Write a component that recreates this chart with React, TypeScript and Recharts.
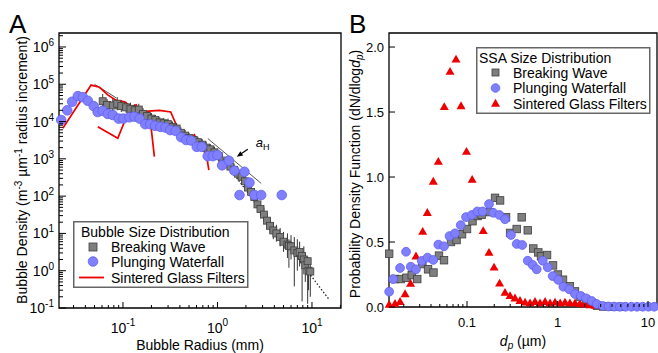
import React from 'react';
import {
  ComposedChart, Scatter, Line, XAxis, YAxis, ErrorBar,
  ReferenceArea, ReferenceDot, Legend,
} from 'recharts';

const FONT = '"Liberation Sans", Arial, Helvetica, sans-serif';
const GRAY = '#7f7f7f';
const GRAY_EDGE = '#3f3f3f';
const BLUE = '#8080ff';
const BLUE_EDGE = '#5f5ff0';
const RED = '#ee0000';

// ---------- Panel A: bubble size distribution ----------
const waveRadius = [0.061, 0.068, 0.078, 0.087, 0.096, 0.108, 0.12, 0.133, 0.147, 0.163, 0.18, 0.2, 0.22, 0.245, 0.27, 0.3, 0.335, 0.37, 0.41, 0.455, 0.5, 0.56, 0.62, 0.69, 0.76, 0.84, 0.93, 1.03, 1.13, 1.25, 1.37, 1.5, 1.65, 1.8, 1.95, 2.1, 2.27, 2.45, 2.65, 2.85, 3.1, 3.35, 3.6, 3.9, 4.2, 4.6, 5.0, 5.5, 5.7, 6.0, 6.5, 7.0, 7.4, 7.86, 8.2, 8.5, 9.0, 9.2, 9.6];
const waveDensity = [3.5e4, 2.8e4, 2.7e4, 3.0e4, 2.6e4, 2.4e4, 2.2e4, 2.0e4, 2.1e4, 1.6e4, 1.4e4, 1.2e4, 1.1e4, 9.5e3, 9e3, 8.5e3, 7.2e3, 6.5e3, 5e3, 4.2e3, 3.6e3, 3.2e3, 2.8e3, 2.4e3, 2.0e3, 1.8e3, 1.5e3, 1.2e3, 900, 800, 620, 500, 400, 330, 250, 170, 130, 95, 60, 45, 32, 22, 16, 12, 10, 8, 6, 5, 4.6, 4.5, 3.5, 3, 3.2, 2.5, 2.0, 1.4, 1.8, 1.0, 0.95];
const waveLow = [2.2e4, 1.9e4, 1.8e4, 2.0e4, 1.8e4, 1.7e4, 1.6e4, 1.4e4, 1.5e4, 1.15e4, 1.0e4, 8.5e3, 8e3, 7e3, 6.5e3, 6e3, 5.2e3, 4.7e3, 3.6e3, 3e3, 2.6e3, 2.3e3, 2e3, 1.7e3, 1.4e3, 1.3e3, 1.05e3, 850, 640, 560, 440, 350, 280, 230, 175, 120, 90, 65, 40, 30, 21, 14, 10, 7, 6, 4.5, 3.2, 2.2, 1.2, 2, 0.38, 1, 1.3, 0.15, 0.8, 0.5, 0.13, 0.3, 0.2];
const waveHigh = [5.5e4, 4.0e4, 4.2e4, 4.5e4, 3.8e4, 3.4e4, 3.2e4, 2.9e4, 3.0e4, 2.3e4, 2.0e4, 1.7e4, 1.5e4, 1.3e4, 1.25e4, 1.2e4, 1e4, 9e3, 7e3, 5.9e3, 5e3, 4.5e3, 3.9e3, 3.4e3, 2.9e3, 2.5e3, 2.1e3, 1.7e3, 1.3e3, 1.15e3, 880, 720, 580, 480, 360, 245, 190, 140, 90, 68, 50, 35, 26, 20, 17, 14, 11, 10, 7, 9, 8, 7, 6, 3.6, 4.5, 3, 2.4, 2, 1.6];

const fallRadius = [0.0222, 0.0257, 0.029, 0.0333, 0.0376, 0.0425, 0.049, 0.054, 0.061, 0.069, 0.078, 0.09, 0.101, 0.117, 0.132, 0.15, 0.172, 0.194, 0.219, 0.249, 0.282, 0.316, 0.36, 0.413, 0.467, 0.527, 0.604, 0.682, 0.789, 0.892, 1.0, 1.12, 1.32, 1.51, 1.71, 1.93, 2.18, 2.46, 2.9, 4.79];
const fallDensity = [1.1e4, 2.0e4, 3.4e4, 4.8e4, 4.5e4, 3.6e4, 2.6e4, 1.8e4, 1.95e4, 1.6e4, 1.5e4, 1.2e4, 1.2e4, 1.3e4, 1.35e4, 1.2e4, 8.5e3, 8.5e3, 7.7e3, 7.2e3, 6.9e3, 5.9e3, 5.6e3, 3.8e3, 3.2e3, 3.1e3, 2.1e3, 2.1e3, 1.18e3, 1.18e3, 1.26e3, 670, 890, 480, 107, 450, 230, 107, 107, 107];

const filterRadius1 = [0.0231, 0.046, 0.0564, 0.069, 0.085, 0.104, 0.122, 0.138, 0.15, 0.169, 0.186, 0.243, 0.32, 0.38, 0.413, 0.447, 0.485, 0.527, 0.57, 0.62, 0.67, 0.73, 0.77, 0.81];
const filterDensity1 = [6.6e3, 9.5e4, 8.3e4, 5.2e4, 3.7e4, 3.4e4, 2.5e4, 2.8e4, 1.8e4, 1.6e4, 1.9e4, 2.0e4, 1.8e4, 6.6e3, 3.8e3, 2.9e3, 4.4e3, 3.6e3, 4.4e3, 2.9e3, 2.1e3, 1.5e3, 1.15e3, 500];
const filterRadius2 = [0.0541, 0.0881, 0.1037, 0.1124, 0.132, 0.169, 0.191, 0.215];
const filterDensity2 = [7.3e3, 3.55e3, 9.9e3, 1.66e4, 2.0e4, 1.9e4, 1.66e4, 1.15e3];

// power-law guide lines
const fitSmallRadius = [0.05, 0.085];
const fitSmallDensity = [1.0e5, 4.3e4];
const fitHinzeRadius = [0.79, 2.9];
const fitHinzeDensity = [3500, 220];
const fitLargeRadius = [0.9, 15.3];
const fitLargeDensity = [2080, 0.164];

const hinzeRadius = 1.6;
const hinzeDensity = 1140;

// ---------- Panel B: SSA size distribution ----------
const ssaWaveDiam = [0.0138, 0.016, 0.0185, 0.0214, 0.0245, 0.0282, 0.0321, 0.0371, 0.0426, 0.049, 0.0557, 0.0665, 0.0766, 0.0881, 0.1, 0.115, 0.131, 0.145, 0.18, 0.204, 0.232, 0.27, 0.299, 0.354, 0.402, 0.469, 0.54, 0.614, 0.657, 0.766, 0.892, 1.01, 1.15, 1.37, 1.56, 1.77, 2.07, 2.41, 2.73, 3.2, 4.0, 5.0];
const ssaWavePdf = [0.41, 0.215, 0.215, 0.225, 0.245, 0.215, 0.33, 0.29, 0.265, 0.395, 0.36, 0.5, 0.515, 0.56, 0.6, 0.66, 0.7, 0.71, 0.73, 0.84, 0.82, 0.69, 0.57, 0.6, 0.69, 0.59, 0.45, 0.42, 0.39, 0.4, 0.32, 0.25, 0.21, 0.16, 0.12, 0.08, 0.055, 0.03, 0.01, 0.004, 0.002, 0.002];

const ssaFallDiam = [0.0138, 0.0153, 0.0182, 0.0212, 0.0239, 0.0273, 0.0316, 0.0366, 0.0424, 0.0482, 0.0557, 0.0641, 0.0737, 0.0852, 0.0975, 0.113, 0.13, 0.149, 0.175, 0.195, 0.228, 0.263, 0.306, 0.354, 0.408, 0.469, 0.532, 0.589, 0.686, 0.78, 0.885, 1.02, 1.16, 1.35, 1.56, 1.81, 2.07, 2.39, 2.71, 3.16, 3.66, 4.23, 4.89, 5.66, 6.54, 7.56, 8.74, 10.1, 11.7];
const ssaFallPdf = [0.118, 0.215, 0.3, 0.425, 0.31, 0.29, 0.355, 0.38, 0.362, 0.48, 0.467, 0.546, 0.567, 0.63, 0.692, 0.708, 0.735, 0.735, 0.792, 0.725, 0.708, 0.675, 0.554, 0.485, 0.477, 0.356, 0.323, 0.29, 0.356, 0.305, 0.238, 0.208, 0.156, 0.136, 0.1, 0.085, 0.067, 0.046, 0.023, 0.008, 0.004, 0.003, 0.002, 0.002, 0.002, 0.002, 0.002, 0.002, 0.002];

const ssaFilterDiam = [0.0138, 0.016, 0.0182, 0.0207, 0.0238, 0.0273, 0.0324, 0.0364, 0.0424, 0.0482, 0.0561, 0.0649, 0.0756, 0.0859, 0.0987, 0.114, 0.151, 0.175, 0.199, 0.229, 0.263, 0.299, 0.339, 0.385, 0.438, 0.497, 0.564, 0.641, 0.728, 0.827, 0.939, 1.07, 1.21, 1.37, 1.56, 1.77, 2.01, 2.29, 2.6];
const ssaFilterPdf = [0.018, 0.025, 0.04, 0.1, 0.18, 0.39, 0.58, 0.725, 0.965, 1.118, 1.54, 1.81, 1.905, 1.546, 1.195, 0.98, 0.585, 0.418, 0.305, 0.182, 0.11, 0.085, 0.067, 0.048, 0.035, 0.03, 0.04, 0.03, 0.04, 0.03, 0.035, 0.03, 0.035, 0.03, 0.03, 0.025, 0.02, 0.015, 0.01];

// ---------- axes ----------
const mantissas = [1, 2, 3, 4, 5, 6, 7, 8, 9];
const decade = (base: number) => mantissas.map((m) => Number((m * base).toPrecision(2)));
const radiusTicks = [...decade(0.01).slice(2), ...decade(0.1), ...decade(1), 10, 20];
const densityTicks = [...decade(0.1), ...decade(1), ...decade(10), ...decade(100), ...decade(1e3), ...decade(1e4), ...decade(1e5), 1e6, 2e6];
const diameterTicks = [...decade(0.01).slice(1), ...decade(0.1), ...decade(1), 10];
const pdfTicks = [0, 0.5, 1, 1.5, 2];

const RADIUS_DOMAIN = [0.02104, 20.28];
const DENSITY_DOMAIN = [0.1, 2.37e6];
const DIAM_DOMAIN = [0.01374, 12.57];
const PDF_DOMAIN = [0, 2.108];

const pts = (xs: number[], ys: number[]) => xs.map((x, i) => ({ x, y: ys[i] }));

const waveA = waveRadius.map((x, i) => ({
  x,
  y: waveDensity[i],
  err: [waveDensity[i] - waveLow[i], waveHigh[i] - waveDensity[i]],
}));
const fallA = pts(fallRadius, fallDensity);
const filterA1 = pts(filterRadius1, filterDensity1);
const filterA2 = pts(filterRadius2, filterDensity2);
const fitSmall = pts(fitSmallRadius, fitSmallDensity);
const fitHinze = pts(fitHinzeRadius, fitHinzeDensity);
const fitLarge = pts(fitLargeRadius, fitLargeDensity);

const waveB = pts(ssaWaveDiam, ssaWavePdf);
const fallB = pts(ssaFallDiam, ssaFallPdf);
const filterB = pts(ssaFilterDiam, ssaFilterPdf);

// ---------- helpers ----------
const isMajor = (v: number) => Math.abs(Math.log10(v) - Math.round(Math.log10(v))) < 1e-6;

const squareShape = (s: number) => (p: any) => (
  <rect x={p.cx - s / 2} y={p.cy - s / 2} width={s} height={s} fill={GRAY} stroke={GRAY_EDGE} strokeWidth={0.8} />
);
const circleShape = (r: number) => (p: any) => (
  <circle cx={p.cx} cy={p.cy} r={r} fill={BLUE} stroke={BLUE_EDGE} strokeWidth={0.8} />
);
const triangleShape = (w: number) => (p: any) => {
  const h = w * 0.87;
  return (
    <polygon
      points={`${p.cx},${p.cy - h * 0.6} ${p.cx - w / 2},${p.cy + h * 0.4} ${p.cx + w / 2},${p.cy + h * 0.4}`}
      fill={RED}
    />
  );
};

// ticks point inward; labels in powers of ten
const PowerTickY = ({ x, y, payload }: any) => {
  const v = payload.value;
  const major = isMajor(v);
  return (
    <g>
      <line x1={x} x2={x + (major ? 7 : 4)} y1={y} y2={y} stroke="#000" />
      {major && (
        <text x={x - 5} y={y + 5} textAnchor="end" fontSize={14} fill="#000" fontFamily={FONT}>
          10<tspan dy={-6} fontSize={10}>{Math.round(Math.log10(v))}</tspan>
        </text>
      )}
    </g>
  );
};

const PowerTickX = ({ x, y, payload }: any) => {
  const v = payload.value;
  const major = isMajor(v);
  return (
    <g>
      <line x1={x} x2={x} y1={y} y2={y - (major ? 6 : 3)} stroke="#000" />
      {major && (
        <text x={x} y={y + 25} textAnchor="middle" fontSize={14} fill="#000" fontFamily={FONT}>
          10<tspan dy={-7} fontSize={10}>{Math.round(Math.log10(v))}</tspan>
        </text>
      )}
    </g>
  );
};

const DiamTick = ({ x, y, payload }: any) => {
  const v = payload.value;
  const major = isMajor(v);
  return (
    <g>
      <line x1={x} x2={x} y1={y} y2={y - (major ? 6 : 3)} stroke="#000" />
      {major && (
        <text x={x} y={y + 20} textAnchor="middle" fontSize={13} fill="#000" fontFamily={FONT}>
          {String(v)}
        </text>
      )}
    </g>
  );
};

const PdfTick = ({ x, y, payload }: any) => (
  <g>
    <line x1={x} x2={x + 6} y1={y} y2={y} stroke="#000" />
    <text x={x - 5} y={y + 5} textAnchor="end" fontSize={13} fill="#000" fontFamily={FONT}>
      {payload.value.toFixed(1)}
    </text>
  </g>
);

const TitleAY = () => (
  <g fontFamily={FONT} fill="#000">
    <text x={9} y={33} fontSize={26}>A</text>
    <text transform="translate(27,170) rotate(-90)" textAnchor="middle" fontSize={14}>
      Bubble Density (m<tspan dy={-5} fontSize={10}>-3</tspan>
      <tspan dy={5}> µm</tspan>
      <tspan dy={-5} fontSize={10}>-1</tspan>
      <tspan dy={5}> radius increment)</tspan>
    </text>
  </g>
);

const TitleAX = () => (
  <text x={200} y={350} textAnchor="middle" fontSize={14} fontFamily={FONT} fill="#000">
    Bubble Radius (mm)
  </text>
);

const TitleBY = () => (
  <g fontFamily={FONT} fill="#000">
    <text x={19} y={33} fontSize={26}>B</text>
    <text transform="translate(30,174) rotate(-90)" textAnchor="middle" fontSize={14}>
      Probability Density Function (dN/dlog<tspan fontStyle="italic">d</tspan>
      <tspan dy={3} fontSize={10} fontStyle="italic">p</tspan>
      <tspan dy={-3}>)</tspan>
    </text>
  </g>
);

const TitleBX = () => (
  <text x={193} y={346} textAnchor="middle" fontSize={14} fontFamily={FONT} fill="#000">
    <tspan fontStyle="italic">d</tspan>
    <tspan dy={3} fontSize={10} fontStyle="italic">p</tspan>
    <tspan dy={-3}> (µm)</tspan>
  </text>
);

const HinzeArrow = (p: any) => {
  const { cx, cy } = p;
  return (
    <g>
      <line x1={cx + 11} y1={cy - 7.4} x2={cx + 4} y2={cy - 2.7} stroke="#000" strokeWidth={1.2} />
      <polygon points={`${cx},${cy} ${cx + 6.4},${cy - 1.3} ${cx + 3.6},${cy - 5.4}`} fill="#000" />
      <text x={cx + 19} y={cy - 9.5} fontSize={13} fontStyle="italic" fontFamily={FONT} fill="#000">
        a<tspan dy={3} fontSize={9} fontStyle="normal">H</tspan>
      </text>
    </g>
  );
};

const LegendA = () => (
  <svg width={176} height={68} style={{ display: 'block', fontFamily: FONT }}>
    <rect x={0.75} y={0.75} width={174} height={65.5} fill="#fff" stroke="#666" strokeWidth={1.5} />
    <text x={8} y={16} fontSize={14}>Bubble Size Distribution</text>
    {squareShape(8)({ cx: 20, cy: 26 })}
    <text x={38} y={31} fontSize={14}>Breaking Wave</text>
    {circleShape(4.8)({ cx: 20, cy: 40.5 })}
    <text x={38} y={45.5} fontSize={14}>Plunging Waterfall</text>
    <line x1={6} x2={31} y1={56.5} y2={56.5} stroke={RED} strokeWidth={1.8} />
    <text x={38} y={61.5} fontSize={14}>Sintered Glass Filters</text>
  </svg>
);

const LegendB = () => (
  <svg width={175} height={68} style={{ display: 'block', fontFamily: FONT }}>
    <rect x={0.75} y={0.75} width={173} height={65.5} fill="#fff" stroke="#666" strokeWidth={1.5} />
    <text x={3} y={16} fontSize={14}>SSA Size Distribution</text>
    {squareShape(7)({ cx: 19.5, cy: 25.5 })}
    <text x={37} y={30.5} fontSize={14}>Breaking Wave</text>
    {circleShape(4.3)({ cx: 19.5, cy: 41 })}
    <text x={37} y={46} fontSize={14}>Plunging Waterfall</text>
    {triangleShape(9)({ cx: 19.5, cy: 56.5 })}
    <text x={37} y={61.5} fontSize={14}>Sintered Glass Filters</text>
  </svg>
);

function BubblePanel() {
  return (
    <ComposedChart width={345} height={353} margin={{ top: 33, right: 4, bottom: 0, left: 0 }}>
      <XAxis
        type="number" dataKey="x" scale="log" domain={RADIUS_DOMAIN} ticks={radiusTicks}
        interval={0} tickSize={0} tickMargin={0} axisLine={false} tickLine={false}
        tick={PowerTickX} height={45} label={{ content: TitleAX }}
      />
      <YAxis
        type="number" dataKey="y" scale="log" domain={DENSITY_DOMAIN} ticks={densityTicks}
        interval={0} tickSize={0} tickMargin={0} axisLine={false} tickLine={false}
        tick={PowerTickY} width={59} label={{ content: TitleAY }}
      />
      <Scatter data={waveA} shape={squareShape(7)} isAnimationActive={false}>
        <ErrorBar dataKey="err" direction="y" width={0} stroke="#333" strokeWidth={1} isAnimationActive={false} />
      </Scatter>
      <Line data={fitSmall} dataKey="y" stroke="#555" strokeWidth={1} dot={false} isAnimationActive={false} />
      <Line data={fitHinze} dataKey="y" stroke="#555" strokeWidth={1} dot={false} isAnimationActive={false} />
      <Line data={fitLarge} dataKey="y" stroke="#111" strokeWidth={1.2} strokeDasharray="1.5 2" dot={false} isAnimationActive={false} />
      <Scatter data={fallA} shape={circleShape(4.8)} isAnimationActive={false} />
      <Line data={filterA1} dataKey="y" stroke={RED} strokeWidth={1.7} dot={false} isAnimationActive={false} />
      <Line data={filterA2} dataKey="y" stroke={RED} strokeWidth={1.7} dot={false} isAnimationActive={false} />
      <ReferenceDot x={hinzeRadius} y={hinzeDensity} shape={HinzeArrow} />
      <ReferenceArea
        x1={RADIUS_DOMAIN[0]} x2={RADIUS_DOMAIN[1]} y1={DENSITY_DOMAIN[0]} y2={DENSITY_DOMAIN[1]}
        fill="none" fillOpacity={0} stroke="#000" strokeWidth={1.3}
      />
      <Legend
        content={LegendA} layout="horizontal" verticalAlign="middle" align="center"
        wrapperStyle={{ left: 73, top: 221, width: 176, height: 68 }}
      />
    </ComposedChart>
  );
}

function AerosolPanel() {
  return (
    <ComposedChart width={328} height={353} margin={{ top: 33, right: 1, bottom: 0, left: 0 }}>
      <XAxis
        type="number" dataKey="x" scale="log" domain={DIAM_DOMAIN} ticks={diameterTicks}
        interval={0} tickSize={0} tickMargin={0} axisLine={false} tickLine={false}
        tick={DiamTick} height={46} label={{ content: TitleBX }}
      />
      <YAxis
        type="number" dataKey="y" domain={PDF_DOMAIN} ticks={pdfTicks}
        interval={0} tickSize={0} tickMargin={0} axisLine={false} tickLine={false}
        tick={PdfTick} width={59} label={{ content: TitleBY }}
      />
      <Scatter data={waveB} shape={squareShape(7.5)} isAnimationActive={false} />
      <Scatter data={filterB} shape={triangleShape(9)} isAnimationActive={false} />
      <Scatter data={fallB} shape={circleShape(4.4)} isAnimationActive={false} />
      <ReferenceArea
        x1={DIAM_DOMAIN[0]} x2={DIAM_DOMAIN[1]} y1={PDF_DOMAIN[0]} y2={PDF_DOMAIN[1]}
        fill="none" fillOpacity={0} stroke="#000" strokeWidth={1.3}
      />
      <Legend
        content={LegendB} layout="horizontal" verticalAlign="middle" align="center"
        wrapperStyle={{ left: 146, top: 47, width: 175, height: 68 }}
      />
    </ComposedChart>
  );
}

export default function App() {
  return (
    <div style={{ position: 'absolute', left: 0, top: 0, width: 658, height: 353, background: '#fff', fontFamily: FONT, overflow: 'hidden' }}>
      <div style={{ position: 'absolute', left: 0, top: 0 }}>
        <BubblePanel />
      </div>
      <div style={{ position: 'absolute', left: 330, top: 0 }}>
        <AerosolPanel />
      </div>
    </div>
  );
}
